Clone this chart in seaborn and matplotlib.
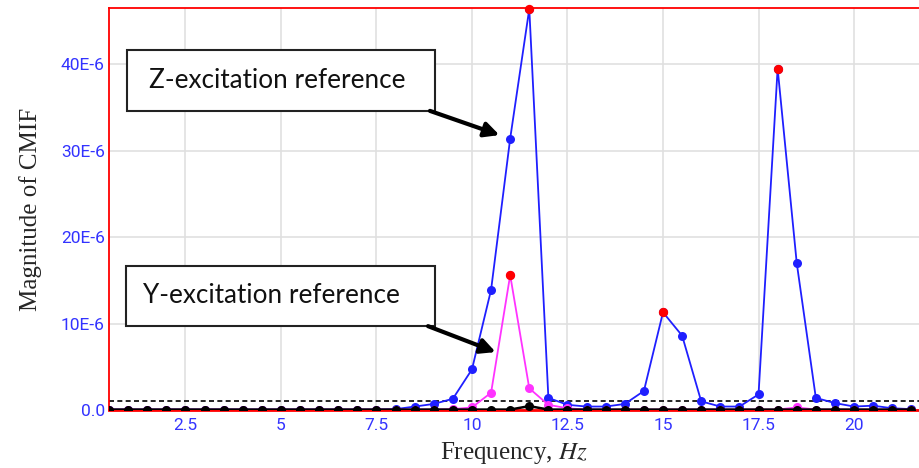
import numpy as np
import pandas as pd
import matplotlib
matplotlib.use("Agg")
import matplotlib.pyplot as plt
from matplotlib.patches import Rectangle
import seaborn as sns

# ---- data (values in units of 1e-6) ----
freq = [0.5, 1.0, 1.5, 2.0, 2.5, 3.0, 3.5, 4.0, 4.5, 5.0, 5.5, 6.0, 6.5, 7.0, 7.5,
        8.0, 8.5, 9.0, 9.5, 10.0, 10.5, 11.0, 11.5, 12.0, 12.5, 13.0, 13.5, 14.0,
        14.5, 15.0, 15.5, 16.0, 16.5, 17.0, 17.5, 18.0, 18.5, 19.0, 19.5, 20.0,
        20.5, 21.0, 21.5]
z_exc = [0.05, 0.05, 0.05, 0.05, 0.05, 0.05, 0.05, 0.05, 0.05, 0.05, 0.05, 0.05,
         0.05, 0.05, 0.05, 0.1, 0.4, 0.7, 1.3, 4.7, 13.9, 31.4, 46.4, 1.4, 0.6,
         0.4, 0.4, 0.7, 2.2, 11.3, 8.6, 1.0, 0.4, 0.4, 1.8, 39.5, 17.0, 1.4, 0.8,
         0.4, 0.5, 0.2, 0.1]
y_exc = [0.05, 0.05, 0.05, 0.05, 0.05, 0.05, 0.05, 0.05, 0.05, 0.05, 0.05, 0.05,
         0.05, 0.05, 0.05, 0.05, 0.05, 0.05, 0.1, 0.3, 2.0, 15.6, 2.5, 0.6, 0.2,
         0.05, 0.05, 0.05, 0.05, 0.05, 0.05, 0.05, 0.05, 0.05, 0.05, 0.05, 0.3,
         0.05, 0.05, 0.05, 0.05, 0.05, 0.05]
base = [0.05, 0.05, 0.05, 0.05, 0.05, 0.05, 0.05, 0.05, 0.05, 0.05, 0.05, 0.05,
        0.05, 0.05, 0.05, 0.05, 0.05, 0.05, 0.05, 0.05, 0.05, 0.05, 0.45, 0.05,
        0.05, 0.05, 0.05, 0.05, 0.05, 0.05, 0.05, 0.05, 0.05, 0.05, 0.05, 0.05,
        0.05, 0.05, 0.05, 0.05, 0.05, 0.05, 0.05]
peak_freq = [11.5, 15.0, 18.0, 11.0]
peak_val = [46.4, 11.3, 39.5, 15.6]
threshold = 1.0
x_ticks = [2.5, 5, 7.5, 10, 12.5, 15, 17.5, 20]
x_ticklabels = ["2.5", "5", "7.5", "10", "12.5", "15", "17.5", "20"]
y_ticks = [0, 10, 20, 30, 40]
y_ticklabels = ["0.0", "10E-6", "20E-6", "30E-6", "40E-6"]
label_z = "Z-excitation reference"
label_y = "Y-excitation reference"

scale = 1e-6
df = pd.DataFrame({"freq": freq * 3,
                   "val": [v * scale for v in z_exc + y_exc + base],
                   "series": ["Z"] * len(freq) + ["Y"] * len(freq) + ["B"] * len(freq)})
peaks = pd.DataFrame({"freq": peak_freq, "val": [v * scale for v in peak_val]})

sns.set_theme(style="white")
plt.rcParams["mathtext.fontset"] = "stix"

fig = plt.figure(figsize=(9.19, 4.68), dpi=100)
ax = fig.add_axes([109 / 919, 58 / 468, 810 / 919, 402 / 468])

blue = "#1f1fff"
mag = "#ff33ff"

ax.axhline(threshold * scale, ls=(0, (3, 2)), color="black", lw=1.2, zorder=2)

sns.lineplot(data=df[df.series == "Z"], x="freq", y="val", color=blue, marker="o",
             markersize=6.5, markeredgewidth=0, lw=1.3, ax=ax, zorder=3)
sns.lineplot(data=df[df.series == "Y"], x="freq", y="val", color=mag, marker="o",
             markersize=6.5, markeredgewidth=0, lw=1.3, ax=ax, zorder=4)
sns.lineplot(data=df[df.series == "B"], x="freq", y="val", color="black", marker="o",
             markersize=6.5, markeredgewidth=0, lw=1.8, ax=ax, zorder=5)
sns.scatterplot(data=peaks, x="freq", y="val", color="red", s=45, linewidth=0,
                ax=ax, zorder=6, clip_on=False)

ax.set_xlim(0.5, 21.7)
ax.set_ylim(0, 46.5 * scale)
ax.set_xticks(x_ticks)
ax.set_xticklabels(x_ticklabels)
ax.set_yticks([t * scale for t in y_ticks])
ax.set_yticklabels(y_ticklabels)
ax.tick_params(axis="both", length=0, labelcolor="#3333ff", labelsize=12.5)
for lab in ax.get_xticklabels() + ax.get_yticklabels():
    lab.set_fontfamily("Roboto")
ax.tick_params(axis="x", pad=6)
ax.tick_params(axis="y", pad=3)
ax.grid(True, color="#e0e0e0", lw=1.2)
ax.set_axisbelow(True)

for side in ["left", "top", "bottom"]:
    ax.spines[side].set_color("red")
    ax.spines[side].set_linewidth(1.3)
ax.spines["bottom"].set_linewidth(2)
ax.spines["right"].set_visible(False)

ax.set_xlabel(r"Frequency, $Hz$", fontsize=18, family="Liberation Serif", labelpad=5)
ax.set_ylabel("Magnitude of CMIF", fontsize=18, family="Liberation Serif", labelpad=14)

# annotation boxes
for (x0, x1, y0, y1, tx, ty, txt) in [
        (0.96, 9.04, 34.6, 41.6, 4.9, 38.1, label_z),
        (0.94, 9.04, 9.7, 16.7, 4.75, 13.2, label_y)]:
    ax.add_patch(Rectangle((x0, y0 * scale), x1 - x0, (y1 - y0) * scale,
                           facecolor="white", edgecolor="#222222", lw=1.5, zorder=7))
    ax.text(tx, ty * scale, txt, ha="center", va="center", fontsize=18.8,
            family="Lato", color="#111111", zorder=8)

ax.annotate("", xy=(10.72, 31.8 * scale), xytext=(8.9, 34.6 * scale),
            arrowprops=dict(arrowstyle="-|>", lw=3, color="black", mutation_scale=22,
                            shrinkA=0, shrinkB=0), zorder=8)
ax.annotate("", xy=(10.62, 6.7 * scale), xytext=(8.85, 9.7 * scale),
            arrowprops=dict(arrowstyle="-|>", lw=3, color="black", mutation_scale=22,
                            shrinkA=0, shrinkB=0), zorder=8)

fig.savefig("out.png", dpi=100)
